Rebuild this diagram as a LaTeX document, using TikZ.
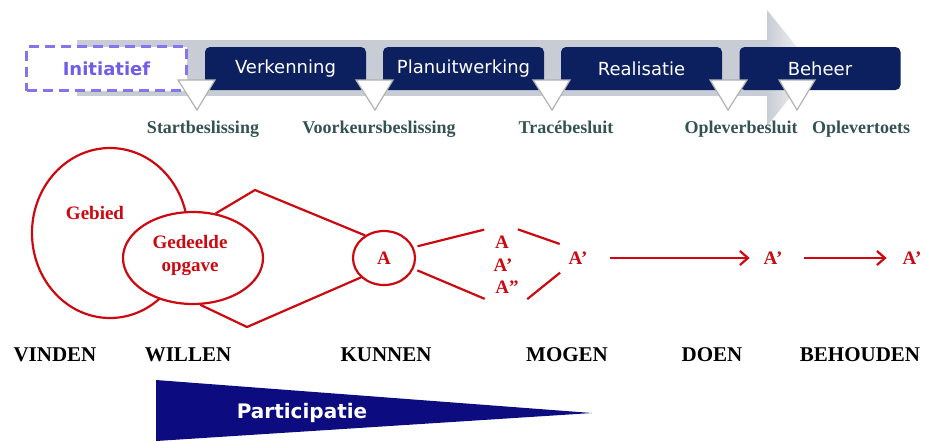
\documentclass[tikz,border=0pt]{standalone}
\usepackage{fontspec}
\setmainfont{Liberation Serif}
\newfontfamily\phasefont{DejaVu Sans}
\usetikzlibrary{shapes.geometric,arrows.meta}

\definecolor{phaseblue}{RGB}{12,31,94}
\definecolor{initblue}{RGB}{112,92,232}
\definecolor{bandgray}{RGB}{200,205,213}
\definecolor{besluit}{RGB}{52,82,82}
\definecolor{rood}{RGB}{204,8,16}
\definecolor{partblue}{RGB}{12,12,128}

\tikzset{
  phase/.style={fill=phaseblue, rounded corners=2.5pt, text=white,
    font=\phasefont\fontsize{9}{10}\selectfont, minimum width=80.5pt, minimum height=21.5pt},
  gate/.style={fill=white, draw=gray!60, line width=0.6pt},
  besluittxt/.style={text=besluit, font=\bfseries\fontsize{9}{10}\selectfont, inner sep=1pt, anchor=base},
  rood/.style={draw=rood, line width=1.1pt},
  roodtxt/.style={text=rood, font=\bfseries\fontsize{9.5}{11}\selectfont, align=center},
  fase/.style={font=\bfseries\fontsize{10.5}{12}\selectfont}
}

\begin{document}
\begin{tikzpicture}[x=0.5pt, y=-0.5pt, >={Straight Barb[length=4pt,width=7pt]}]
\useasboundingbox (0,0) rectangle (925,441);

% process arrow
\fill[bandgray] (77,40) rectangle (767,96);
\shade[left color=bandgray, right color=white] (767,10) -- (814,68) -- (767,126) -- cycle;

\node[draw=initblue!85, dashed, dash pattern=on 5pt off 3pt, line width=1.3pt, fill=white,
  text=initblue, font=\phasefont\bfseries\fontsize{9}{10}\selectfont,
  minimum width=80pt, minimum height=22pt] (init) at (106.5,68.5) {Initiatief};
\node[phase] (verk) at (285.5,68.5) {Verkenning};
\node[phase] (plan) at (463.5,68.5) {Planuitwerking};
\node[phase] (real) at (641.5,68.5) {Realisatie};
\node[phase] (beheer) at (820,68.5) {Beheer};

% beslismomenten
\draw[gate] (178,80) -- (215,80) -- (197,110) -- cycle;
\draw[gate] (356,80) -- (393,80) -- (375,110) -- cycle;
\draw[gate] (533,80) -- (570,80) -- (552,110) -- cycle;
\draw[gate] (710,80) -- (747,80) -- (728,110) -- cycle;
\draw[gate] (779,80) -- (815,80) -- (797,110) -- cycle;

\node[besluittxt] (start) at (203,133) {Startbeslissing};
\node[besluittxt] (voork) at (379,133) {Voorkeursbeslissing};
\node[besluittxt] (trace) at (566,133) {Trac\'ebesluit};
\node[besluittxt] (oplev) at (741,133) {Opleverbesluit};
\node[besluittxt] (toets) at (861,133) {Oplevertoets};

% trechter
\node[rood, ellipse, minimum width=78pt, minimum height=85pt] (gebied) at (110,233) {};
\node[roodtxt] (gebiedtxt) at (95,213) {Gebied};
\node[rood, ellipse, fill=white, minimum width=70pt, minimum height=46pt] (opgave) at (193,258) {};
\node[roodtxt, font=\bfseries\fontsize{9.5}{11.5}\selectfont] (opgavetxt) at (190,255) {Gedeelde\\opgave};
\node[rood, ellipse, minimum width=31pt, minimum height=27pt, roodtxt] (a) at (384,258) {A};

\coordinate (dtop) at (255,190);
\coordinate (dbot) at (247,327);
\draw[rood] (opgave.63) -- (dtop) -- (a.130);
\draw[rood] (opgave.-81) -- (dbot) -- (a.220);

\node[roodtxt] (alt1) at (502,242) {A};
\node[roodtxt] (alt2) at (503,265) {A'};
\node[roodtxt] (alt3) at (507,287) {A''};
\node[roodtxt] (ap1) at (578,258) {A'};
\node[roodtxt] (ap2) at (773,258) {A'};
\node[roodtxt] (ap3) at (912,258) {A'};

\draw[rood, shorten <=2pt, shorten >=2pt] (a.20) -- (alt1.north west);
\draw[rood, shorten <=2pt, shorten >=2pt] (a.-20) -- (alt3.south west);
\draw[rood, shorten <=1pt, shorten >=1pt] (alt1.north east) -- (ap1.north west);
\draw[rood, shorten <=1pt, shorten >=1pt] (alt3.south east) -- (ap1.south west);
\draw[rood, ->, shorten <=8pt, shorten >=3.5pt] (ap1) -- (ap2);
\draw[rood, ->, shorten <=7.5pt, shorten >=4.5pt] (ap2) -- (ap3);

% fasen
\node[fase] (vinden) at (55,355) {VINDEN};
\node[fase] (willen) at (188,355) {WILLEN};
\node[fase] (kunnen) at (386,355) {KUNNEN};
\node[fase] (mogen) at (567,355) {MOGEN};
\node[fase] (doen) at (712,355) {DOEN};
\node[fase] (behouden) at (860,355) {BEHOUDEN};

% participatie
\fill[partblue] (156,380) -- (592,413) -- (156,441) -- cycle;
\node[text=white, font=\phasefont\bfseries\fontsize{10}{12}\selectfont] (part) at (302,413) {Participatie};
\end{tikzpicture}
\end{document}
